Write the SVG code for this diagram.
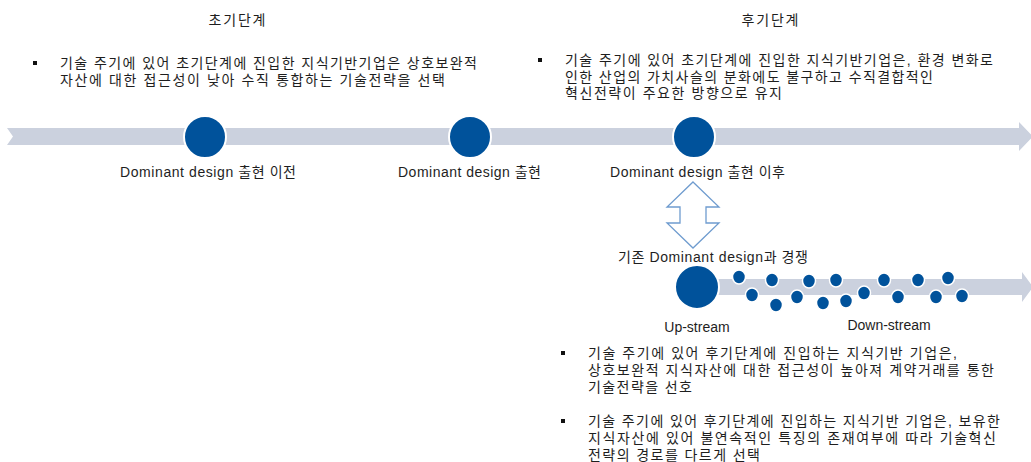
<svg xmlns="http://www.w3.org/2000/svg" width="1031" height="462" viewBox="0 0 1031 462">
<style>
text{font-family:"Liberation Sans","Noto Sans CJK KR",Arial,sans-serif;fill:#1e1e1e}
.t14{font-size:14px}
.t13{font-size:14px}
.mid{text-anchor:middle}
.band{fill:#cbd1de}
.node{fill:#00529b;stroke:#ffffff;stroke-width:2}
.dot{fill:#00529b;stroke:#ffffff;stroke-width:1.5}
.bul{fill:#111}
</style>
<rect width="1031" height="462" fill="#ffffff"/>
<g id="connectors">
  <polygon class="band" points="7,128 1019,128 1019,122 1033,136.5 1019,151 1019,145 7,145 13,136.5"/>
  <polygon class="band" points="715,279 1022,279 1022,272 1033,287 1022,302 1022,295 715,295"/>
  <polygon points="693,182 719,207 706,207 706,223 719,223 693,248 667,223 680,223 680,207 667,207" fill="#ffffff" stroke="#6f9ccf" stroke-width="1.3"/>
</g>
<g id="title-early"><text class="t14 mid" x="237" y="25" textLength="57" lengthAdjust="spacing">초기단계</text></g>
<g id="title-late"><text class="t14 mid" x="770" y="25" textLength="57" lengthAdjust="spacing">후기단계</text></g>
<g id="note-early">
  <rect class="bul" x="33" y="61" width="4" height="4"/>
  <text class="t13" x="60" y="68" textLength="417" lengthAdjust="spacing">기술 주기에 있어 초기단계에 진입한 지식기반기업은 상호보완적</text>
  <text class="t13" x="60" y="85" textLength="385" lengthAdjust="spacing">자산에 대한 접근성이 낮아 수직 통합하는 기술전략을 선택</text>
</g>
<g id="note-late">
  <rect class="bul" x="538" y="58" width="4" height="4"/>
  <text class="t13" x="565" y="65" textLength="428" lengthAdjust="spacing">기술 주기에 있어 초기단계에 진입한 지식기반기업은, 환경 변화로</text>
  <text class="t13" x="565" y="82" textLength="368" lengthAdjust="spacing">인한 산업의 가치사슬의 분화에도 불구하고 수직결합적인</text>
  <text class="t13" x="565" y="98" textLength="217" lengthAdjust="spacing">혁신전략이 주요한 방향으로 유지</text>
</g>
<g id="node-before">
  <circle class="node" cx="205" cy="137" r="21"/>
  <text class="t14 mid" x="208" y="177" textLength="176" lengthAdjust="spacing">Dominant design 출현 이전</text>
</g>
<g id="node-emerge">
  <circle class="node" cx="470" cy="137" r="21"/>
  <text class="t14 mid" x="469.5" y="177" textLength="143" lengthAdjust="spacing">Dominant design 출현</text>
</g>
<g id="node-after">
  <circle class="node" cx="694" cy="137" r="21"/>
  <text class="t14 mid" x="697.5" y="177" textLength="175" lengthAdjust="spacing">Dominant design 출현 이후</text>
</g>
<g id="label-compete"><text class="t14 mid" x="713" y="262" textLength="190" lengthAdjust="spacing">기존 Dominant design과 경쟁</text></g>
<g id="node-upstream">
  <circle class="node" cx="697" cy="287" r="22"/>
  <text class="t14 mid" x="697" y="332">Up-stream</text>
</g>
<g id="node-downstream">
  <ellipse class="dot" cx="739" cy="277" rx="6.5" ry="7"/>
  <ellipse class="dot" cx="752" cy="295" rx="6.5" ry="7"/>
  <ellipse class="dot" cx="772" cy="280" rx="6.5" ry="7"/>
  <ellipse class="dot" cx="776" cy="305" rx="6.5" ry="7"/>
  <ellipse class="dot" cx="797" cy="297" rx="6.5" ry="7"/>
  <ellipse class="dot" cx="809" cy="281" rx="6.5" ry="7"/>
  <ellipse class="dot" cx="823" cy="303" rx="6.5" ry="7"/>
  <ellipse class="dot" cx="836" cy="280" rx="6.5" ry="7"/>
  <ellipse class="dot" cx="846" cy="301" rx="6.5" ry="7"/>
  <ellipse class="dot" cx="864" cy="293" rx="6.5" ry="7"/>
  <ellipse class="dot" cx="884" cy="280" rx="6.5" ry="7"/>
  <ellipse class="dot" cx="898" cy="297" rx="6.5" ry="7"/>
  <ellipse class="dot" cx="918" cy="280" rx="6.5" ry="7"/>
  <ellipse class="dot" cx="936" cy="297" rx="6.5" ry="7"/>
  <ellipse class="dot" cx="948" cy="278" rx="6.5" ry="7"/>
  <ellipse class="dot" cx="962" cy="296" rx="6.5" ry="7"/>
  <text class="t14 mid" x="889" y="330">Down-stream</text>
</g>
<g id="note-late-1">
  <rect class="bul" x="561" y="351" width="4" height="4"/>
  <text class="t13" x="588" y="358" textLength="369" lengthAdjust="spacing">기술 주기에 있어 후기단계에 진입하는 지식기반 기업은,</text>
  <text class="t13" x="588" y="375" textLength="406" lengthAdjust="spacing">상호보완적 지식자산에 대한 접근성이 높아져 계약거래를 통한</text>
  <text class="t13" x="588" y="392" textLength="104" lengthAdjust="spacing">기술전략을 선호</text>
</g>
<g id="note-late-2">
  <rect class="bul" x="561" y="419" width="4" height="4"/>
  <text class="t13" x="588" y="426" textLength="412" lengthAdjust="spacing">기술 주기에 있어 후기단계에 진입하는 지식기반 기업은, 보유한</text>
  <text class="t13" x="588" y="443" textLength="408" lengthAdjust="spacing">지식자산에 있어 불연속적인 특징의 존재여부에 따라 기술혁신</text>
  <text class="t13" x="588" y="460" textLength="172" lengthAdjust="spacing">전략의 경로를 다르게 선택</text>
</g>
</svg>
